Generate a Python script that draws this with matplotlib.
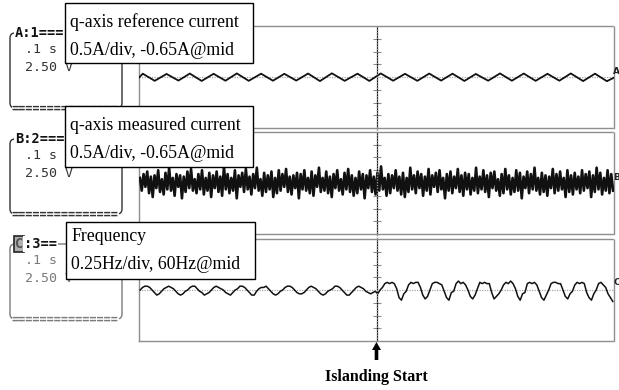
import numpy as np
import matplotlib
matplotlib.use("Agg")
import matplotlib.pyplot as plt
from matplotlib.patches import Rectangle, FancyBboxPatch, FancyArrow
from matplotlib.lines import Line2D
from matplotlib.transforms import Affine2D, blended_transform_factory

# ---------------- data ----------------
# time axis: 10 div x 0.1 s/div ; vertical: 8 div (+-4 div around mid)
channel_names = ["A", "B", "C"]
channel_numbers = ["1", "2", "3"]
timebase_label = ".1 s"
volt_label = "2.50 V"
trace_titles = ["q-axis reference current", "q-axis measured current", "Frequency"]
trace_scales = ["0.5A/div, -0.65A@mid", "0.5A/div, -0.65A@mid", "0.25Hz/div, 60Hz@mid"]
event_label = "Islanding Start"
event_time = 0.5  # s

# q-axis reference current: vertices of the ripple (time in s, level in div)
ref_time = [0.000, 0.008, 0.033, 0.058, 0.083, 0.107, 0.132, 0.157, 0.182, 0.206,
            0.231, 0.257, 0.282, 0.306, 0.331, 0.356, 0.381, 0.406, 0.433, 0.460,
            0.485, 0.509, 0.535, 0.560, 0.586, 0.611, 0.636, 0.660, 0.685, 0.709,
            0.735, 0.760, 0.785, 0.810, 0.835, 0.860, 0.885, 0.909, 0.935, 0.960,
            0.985, 1.000]
ref_level = [-0.05, 0.26, -0.30, 0.24, -0.28, 0.27, -0.31, 0.25, -0.29, 0.28,
             -0.30, 0.26, -0.29, 0.25, -0.28, 0.27, -0.32, 0.29, -0.30, 0.26,
             -0.31, 0.28, -0.29, 0.25, -0.30, 0.27, -0.28, 0.26, -0.31, 0.24,
             -0.29, 0.28, -0.29, 0.27, -0.30, 0.25, -0.29, 0.28, -0.32, 0.26,
             -0.33, -0.05]

# q-axis measured current: evenly spaced samples over 1 s, in 0.1 div
meas_level = [
    4, -6, 7, -3, 9, -8, 5, -11, 6, -4, 10, -7, 3, -9, 8, -5, 12, -6, 4, -10,
    7, -3, 6, -12, 5, -7, 9, -4, 11, -6, 3, -8, 7, -5, 10, -9, 4, -6, 8, -11,
    6, -4, 9, -7, 5, -10, 13, -5, 7, -8, 4, -6, 10, -12, 6, -3, 8, -7, 11, -5,
    5, -9, 7, -4, 12, -6, 3, -10, 8, -7, 6, -5, 9, -11, 4, -8, 10, -6, 7, -3,
    11, -7, 5, -9, 6, -4, 8, -12, 7, -5, 10, -6, 4, -8, 9, -10, 6, -3, 12, -7,
    4, -6, 9, -8, 5, -11, 7, -4, 10, -6, 3, -9, 8, -5, 11, -7, 6, -10, 4, -8,
    9, -5, 7, -12, 6, -4, 10, -7, 5, -9, 8, -6, 13, -5, 4, -10, 7, -8, 6, -4,
    10, -6, 5, -9, 8, -11, 4, -7, 12, -5, 6, -8, 9, -4, 7, -10, 5, -6, 11, -9,
    6, -3, 8, -7, 10, -5, 4, -12, 7, -6, 9, -8, 5, -4, 11, -7, 6, -10, 8, -5,
    7, -9, 4, -6, 12, -8, 5, -5, 10, -7, 6, -11, 8, -4, 9, -6, 3, -10, 7, -8,
    11, -5, 6, -9, 4, -7, 10, -6, 8, -12, 5, -4, 9, -8, 7, -5, 12, -6, 4, -9,
    8, -7, 6, -10, 5, -4, 11, -8, 7, -6, 9, -5, 4, -11, 10, -7, 6, -9, 8, -5,
    5, -8, 10, -6, 7, -4, 9, -11, 6, -7, 12, -5, 8, -9, 4, -6, 10, -8, 7, -6,
]

# frequency: evenly spaced samples over 1 s (5 ms apart), in 0.1 div
freq_level = [
    0, 2, 3, 3, 2, 0, -2, -4, -3, -1,
    1, 2, 3, 2, 1, -1, -3, -4, -3, -1,
    0, 2, 3, 3, 1, -1, -2, -4, -3, -2,
    0, 2, 3, 2, 1, 0, -2, -3, -4, -2,
    0, 1, 3, 3, 2, 0, -2, -4, -4, -1,
    1, 2, 2, 3, 1, -1, -3, -4, -3, -1,
    0, 2, 3, 3, 2, 0, -2, -3, -3, -2,
    0, 2, 3, 2, 1, -1, -3, -4, -3, -1,
    0, 1, 3, 3, 2, 0, -2, -4, -4, -2,
    0, 2, 3, 2, 1, -1, -2, -3, -2, -1,
    -3, 0, 2, 5, 6, 5, 6, 5, 1, -6,
    -8, -3, -1, 4, 6, 5, 6, 6, 2, -4,
    -7, -5, 0, 5, 6, 6, 5, 4, -1, -6,
    -8, -2, -1, 5, 7, 5, 6, 4, 0, -5,
    -7, -4, 1, 6, 5, 6, 5, 5, -2, -7,
    -5, -3, 0, 4, 6, 5, 7, 5, 1, -5,
    -8, -3, -2, 5, 6, 5, 6, 4, -1, -6,
    -8, -4, 0, 5, 6, 6, 5, 5, 0, -5,
    -7, -3, -1, 4, 6, 5, 6, 5, -2, -6,
    -8, -3, 0, 5, 6, 4, 2, -3, -6, -9,
]

# ---------------- figure ----------------
W, H = 619, 390
fig = plt.figure(figsize=(W / 100, H / 100), dpi=100)
fig.patch.set_facecolor("white")
# pixel coordinates measured from the top-left corner
px = Affine2D().scale(1 / W, -1 / H).translate(0, 1) + fig.transFigure

GRID = "#8e8e8e"
DOTS = (0, (1, 1))
panel_rows = [(26, 128), (132, 234), (239, 341)]
left_px, right_px = 139, 614

meas_t = (np.arange(len(meas_level)) + 0.5) / len(meas_level)
freq_t = (np.arange(len(freq_level)) + 0.5) / len(freq_level)
traces = [
    (ref_time, ref_level, 1.3),
    (meas_t, np.array(meas_level) / 10.0, 1.9),
    (freq_t, np.array(freq_level) / 10.0, 1.1),
]

axes = []
for (top, bot), (tx, ty, lw) in zip(panel_rows, traces):
    ax = fig.add_axes([left_px / W, 1 - bot / H, (right_px - left_px) / W, (bot - top) / H])
    ax.set_xlim(0, 1)
    ax.set_ylim(-4, 4)
    ax.set_xticks([])
    ax.set_yticks([])
    for s in ax.spines.values():
        s.set_linestyle(DOTS)
        s.set_color(GRID)
        s.set_linewidth(1.0)
    ax.axhline(0, color="#a8a8a8", lw=0.9, ls=DOTS, zorder=1)
    sec = ax.secondary_yaxis(event_time)
    sec.set_yticks([-3, -2, -1, 1, 2, 3])
    sec.tick_params(direction="inout", length=6, width=0.8, color=GRID,
                    labelleft=False, labelright=False)
    sec.spines["left"].set_visible(False)
    ax.plot(tx, ty, color="#111111", lw=lw, zorder=3, solid_joinstyle="round")
    axes.append(ax)

# continuous centre line through all panels
bt = blended_transform_factory(axes[0].transData, px)
fig.add_artist(Line2D([event_time, event_time], [26, 341], transform=bt,
                      color=GRID, lw=1.0, ls=DOTS, zorder=2))

# ---------------- left channel boxes ----------------
mono = "DejaVu Sans Mono"
offsets = [0, 106, 211]
for k, dy in enumerate(offsets):
    col = "#333333" if k < 2 else "#7a7a7a"
    fig.add_artist(FancyBboxPatch((10, 33 + dy), 112, 75, transform=px,
                                  boxstyle="round,pad=0,rounding_size=5",
                                  fill=False, ec=col, lw=1.0, zorder=4))
    if k < 2:
        fig.text(15, 37 + dy, f"{channel_names[k]}:{channel_numbers[k]}===", transform=px,
                 family=mono, weight="bold", fontsize=9.8, color="#111111", va="baseline",
                 bbox=dict(fc="white", ec="none", pad=1), zorder=5)
    else:
        fig.text(15, 37 + dy, channel_names[k], transform=px,
                 family=mono, weight="bold", fontsize=9.8, color="#555555", va="baseline",
                 bbox=dict(fc="#b0b0b0", ec="#222222", pad=0.8, lw=1.2), zorder=5)
        fig.text(24, 37 + dy, f":{channel_numbers[k]}==", transform=px,
                 family=mono, weight="bold", fontsize=9.8, color="#111111", va="baseline",
                 bbox=dict(fc="white", ec="none", pad=1), zorder=5)
    fig.text(25, 53 + dy, timebase_label, transform=px, family=mono, fontsize=9.5,
             color=col, va="baseline", zorder=5)
    fig.text(25, 71 + dy, volt_label, transform=px, family=mono, fontsize=9.5,
             color=col, va="baseline", zorder=5)
    fig.text(12, 112 + dy, "===============", transform=px, family=mono, fontsize=8.6,
             weight="bold", color=col, va="baseline",
             bbox=dict(fc="white", ec="none", pad=0.3), zorder=5)

# ---------------- overlay annotation boxes ----------------
serif = "Liberation Serif"
boxes = [(65, 3, 188, 60, 27, 55), (65, 106, 188, 61, 130, 158), (66, 222, 189, 57, 241, 269)]
for (bx, by, bw, bh, b1, b2), title, scale in zip(boxes, trace_titles, trace_scales):
    fig.add_artist(Rectangle((bx, by), bw, bh, transform=px, fc="white", ec="black",
                             lw=1.0, zorder=10))
    fig.text(bx + 5, b1, title, transform=px, family=serif, fontsize=12.8,
             va="baseline", zorder=11)
    fig.text(bx + 5, b2, scale, transform=px, family=serif, fontsize=12.8,
             va="baseline", zorder=11)

# channel markers at the right edge of the screen
for name, yb in zip(channel_names, [74, 180, 285]):
    fig.text(613, yb, name, transform=px, family="DejaVu Sans", weight="bold",
             fontsize=6.5, color="#222222", va="baseline", zorder=5)

# ---------------- islanding arrow and label ----------------
event_px = left_px + event_time * (right_px - left_px)
fig.add_artist(FancyArrow(event_px, 360, 0, -18, width=3.6, head_width=9,
                          head_length=8, length_includes_head=True, transform=px,
                          color="black", lw=0, zorder=6))
fig.text(event_px, 381, event_label, transform=px, family=serif, weight="bold",
         fontsize=11.5, ha="center", va="baseline", zorder=6)

fig.savefig("out.png", dpi=100, facecolor="white")
